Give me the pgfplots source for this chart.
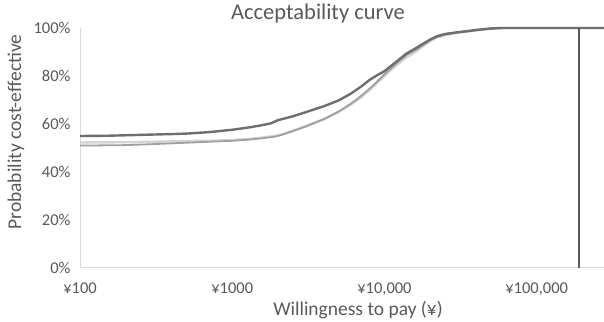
\documentclass[border=0pt]{standalone}
\usepackage{fontspec}
\setmainfont{Carlito}
\usepackage{pgfplots}
\pgfplotsset{compat=1.18}
\usepackage{pgfplotstable}

\definecolor{txtgray}{HTML}{595959}
\definecolor{axgray}{HTML}{D9D9D9}
\definecolor{darkln}{HTML}{6E6E6E}
\definecolor{midln}{HTML}{A0A0A0}
\definecolor{lightln}{HTML}{D4D4D4}
\definecolor{thresh}{HTML}{5A5A5A}

% Willingness to pay (yen) vs probability cost-effective (%)
\pgfplotstableread{
wtp prob
100 55.0
150 55.1
200 55.3
300 55.6
400 55.8
500 56.0
700 56.6
1000 57.6
1300 58.6
1600 59.6
1800 60.3
2000 61.6
2500 63.2
3000 64.8
3500 66.2
4000 67.4
5000 69.8
6000 72.6
7000 75.5
8000 78.4
9000 80.4
10000 82.0
12000 86.0
14000 89.4
16000 91.5
18000 93.5
20000 95.2
22000 96.5
25000 97.5
30000 98.2
35000 98.7
40000 99.2
50000 99.8
60000 100
100000 100
277000 100
}\tabdark

\pgfplotstableread{
wtp prob
100 52.3
200 52.4
300 52.6
500 52.9
700 53.0
1000 53.3
1300 53.8
1600 54.4
1900 55.0
2100 55.6
2500 57.2
3000 59.0
4000 62.0
5000 65.0
6000 68.0
7000 71.0
8000 74.2
9000 77.2
10000 80.0
12000 84.5
14000 87.8
16000 90.0
18000 92.5
20000 94.5
22000 96.0
25000 97.0
30000 98.0
40000 99.0
50000 99.7
60000 100
277000 100
}\tablight

\pgfplotstableread{
wtp prob
100 51.0
200 51.2
300 51.6
500 52.2
700 52.6
1000 53.0
1300 53.5
1600 54.1
1900 54.7
2100 55.4
2500 57.0
3000 58.8
4000 62.0
5000 65.2
6000 68.4
7000 71.6
8000 74.8
9000 77.8
10000 80.7
12000 85.3
14000 88.8
16000 90.8
18000 93.0
20000 95.0
22000 96.3
25000 97.2
30000 98.1
40000 99.0
50000 99.8
60000 100
277000 100
}\tabmid

\begin{document}
\begin{tikzpicture}
\useasboundingbox (0pt,0pt) rectangle (604pt,321pt);
\begin{axis}[
  at={(80pt,53pt)}, anchor=south west,
  scale only axis, width=524pt, height=240pt,
  xmode=log, xmin=100, xmax=277000,
  ymin=0, ymax=100,
  clip=false,
  axis x line=bottom, axis y line=left,
  axis line style={-, axgray, line width=1pt},
  major tick length=0pt, minor tick length=0pt,
  minor x tick num=0,
  xminorticks=false,
  xtick={100,1000,10000,100000},
  xticklabels={¥100,¥1000,{¥10,000},{¥100,000}},
  ytick={0,20,40,60,80,100},
  yticklabels={0\%,20\%,40\%,60\%,80\%,100\%},
  tick label style={font=\fontsize{16.5}{18}\selectfont, text=txtgray},
  xticklabel style={yshift=-11pt},
  yticklabel style={xshift=-6pt},
]
\addplot[lightln, line width=2.4pt] table[x=wtp,y=prob] {\tablight};
\addplot[midln, line width=1.8pt] table[x=wtp,y=prob] {\tabmid};
\addplot[darkln, line width=2.4pt] table[x=wtp,y=prob] {\tabdark};
\addplot[thresh, line width=2.2pt] coordinates {(190000,0) (190000,100)};
\end{axis}
\node[text=txtgray, font=\fontsize{19.5}{23}\selectfont] at (358pt,11pt) {Willingness to pay (¥)};
\node[text=txtgray, font=\fontsize{22.5}{26}\selectfont] at (318pt,307pt) {Acceptability curve};
\node[text=txtgray, font=\fontsize{19.5}{23}\selectfont, rotate=90] at (16pt,189pt) {Probability cost-effective};
\end{tikzpicture}
\end{document}
